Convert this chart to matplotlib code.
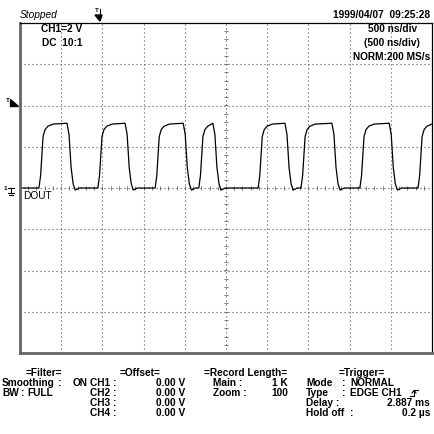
import numpy as np
import matplotlib
matplotlib.use('Agg')
import matplotlib.pyplot as plt

# ---- data (time in divisions, level in divisions) ----
rise_div = [0.46, 1.89, 3.28, 4.34, 5.78, 6.82, 8.25, 9.66]
fall_div = [1.14, 2.55, 3.96, 4.68, 6.43, 7.57, 8.96]
# edge shapes
rise_dt = [0.0, 0.04, 0.10, 0.15, 0.22, 0.35]
rise_v = [0.0, 0.30, 1.25, 1.42, 1.50, 1.55]
fall_dt = [0.0, 0.05, 0.10, 0.15, 0.20, 0.30]
fall_v = [1.57, 1.30, 0.50, 0.10, -0.05, 0.0]

filter_rows = [("Smoothing", "ON"), ("BW", "FULL")]
offset_rows = [("CH1 :", "0.00 V"), ("CH2 :", "0.00 V"), ("CH3 :", "0.00 V"), ("CH4 :", "0.00 V")]
record_rows = [("Main :", "1 K"), ("Zoom :", "100")]
trigger_rows = [("Mode", "NORMAL", ""), ("Type", "EDGE CH1", ""), ("Delay :", "", "2.887 ms"),
                ("Hold off  :", "", "0.2 \u00b5s")]

W = 434
plt.rcParams['font.family'] = ['Liberation Sans', 'DejaVu Sans']

# build trace
t, v = [0.0], [0.0]
for i, r in enumerate(rise_div):
    f = fall_div[i] if i < len(fall_div) else 10.0
    for dt, lv in zip(rise_dt, rise_v):
        if r + dt < f:
            t.append(r + dt); v.append(lv)
    if i < len(fall_div):
        for dt, lv in zip(fall_dt, fall_v):
            t.append(f + dt); v.append(lv)
    else:
        t.append(10.0); v.append(rise_v[-1])
if t[-1] < 10:
    t.append(10.0); v.append(0.0)

fig = plt.figure(figsize=(W / 100, W / 100), dpi=100)
L, T, R, B = 20, 23, 432, 353
ax = fig.add_axes([L / W, 1 - B / W, (R - L) / W, (B - T) / W])
ax.set_xlim(0, 10)
ax.set_ylim(-4, 4)
ax.set_xticks([]); ax.set_yticks([])
for s in ['top', 'right']:
    ax.spines[s].set_linewidth(0.9)
    ax.spines[s].set_color('black')
for s in ['left', 'bottom']:
    ax.spines[s].set_linewidth(2)
    ax.spines[s].set_color('#666666')

dots = (0, (1, 2.6))
for k in range(1, 10):
    ax.axvline(k, color='#555555', lw=0.8, ls=dots)
for k in range(-3, 4):
    ax.axhline(k, color='#555555', lw=0.8, ls=dots)
ticks_x = np.arange(0, 10.01, 0.2)
ticks_y = np.arange(-4, 4.01, 0.2)
ax.plot(ticks_x, np.zeros_like(ticks_x), ls='none', marker='|', ms=2.5, mew=0.6, color='#666666')
ax.plot(np.full_like(ticks_y, 5), ticks_y, ls='none', marker='_', ms=2.5, mew=0.6, color='#666666')

ax.plot(t, v, color='black', lw=0.9)

# overlay in pixel coordinates
ov = fig.add_axes([0, 0, 1, 1])
ov.set_xlim(0, W); ov.set_ylim(W, 0); ov.axis('off')
fs = 7.3
ov.text(L, 15, "Stopped", fontsize=fs, style='italic', va='center')
ov.text(430, 15, "1999/04/07  09:25:28", fontsize=fs, weight='bold', va='center', ha='right')
ov.text(82, 29, "CH1=2 V", fontsize=fs, weight='bold', va='center', ha='right')
ov.text(82, 43, "DC  10:1", fontsize=fs, weight='bold', va='center', ha='right')
ov.text(393, 29, "500 ns/div", fontsize=fs, weight='bold', va='center', ha='center')
ov.text(392, 43, "(500 ns/div)", fontsize=fs, weight='bold', va='center', ha='center')
ov.text(430, 57, "NORM:200 MS/s", fontsize=fs, weight='bold', va='center', ha='right')
ov.text(23, 196, "DOUT", fontsize=fs, va='center')

# trigger position marker
ov.text(97, 11, "T", fontsize=4.5, weight='bold', va='center', ha='center')
ov.plot([100, 100], [9, 19], color='black', lw=0.8)
ov.fill([95, 102, 100], [15, 15, 21], color='black')
# trigger level marker
ov.text(8, 101, "T", fontsize=4.5, weight='bold', va='center', ha='center')
ov.fill([10, 10, 18], [99, 106, 106], color='black')
# ground marker
ov.text(5, 188, "1", fontsize=4.5, weight='bold', va='center', ha='center')
ov.plot([8, 14], [188, 188], color='black', lw=0.8)
ov.plot([11, 11], [188, 193], color='black', lw=0.8)
ov.plot([8, 14], [193, 193], color='black', lw=0.8)
ov.plot([9, 13], [195, 195], color='black', lw=0.8)

# bottom panels
rows_y = [383, 392.5, 402.5, 412.5]
ov.text(44, 373, "=Filter=", fontsize=fs, weight='bold', ha='center', va='center')
for y, (a, b), cx, bx in zip(rows_y, filter_rows, [58, 21], [73, 27]):
    ov.text(2, y, a, fontsize=fs, weight='bold', va='center')
    ov.text(cx, y, ":", fontsize=fs, weight='bold', va='center')
    ov.text(bx, y, b, fontsize=fs, weight='bold', va='center')
ov.text(140, 373, "=Offset=", fontsize=fs, weight='bold', ha='center', va='center')
for y, (a, b) in zip(rows_y, offset_rows):
    ov.text(90, y, a, fontsize=fs, weight='bold', va='center')
    ov.text(185, y, b, fontsize=fs, weight='bold', va='center', ha='right')
ov.text(246, 373, "=Record Length=", fontsize=fs, weight='bold', ha='center', va='center')
for y, (a, b) in zip(rows_y, record_rows):
    ov.text(213, y, a, fontsize=fs, weight='bold', va='center')
    ov.text(288, y, b, fontsize=fs, weight='bold', va='center', ha='right')
ov.text(362, 373, "=Trigger=", fontsize=fs, weight='bold', ha='center', va='center')
for y, (a, m, b) in zip(rows_y, trigger_rows):
    ov.text(306, y, a, fontsize=fs, weight='bold', va='center')
    if m:
        ov.text(342, y, ":", fontsize=fs, weight='bold', va='center')
        ov.text(350, y, m, fontsize=fs, weight='bold', va='center')
    ov.text(430, y, b, fontsize=fs, weight='bold', va='center', ha='right')
# rising edge symbol
ov.plot([410, 414, 414, 418], [396, 396, 390, 390], color='black', lw=0.8)
ov.plot([412, 414, 416], [393, 390.5, 393], color='black', lw=0.8)

fig.savefig('out.png', dpi=100)
